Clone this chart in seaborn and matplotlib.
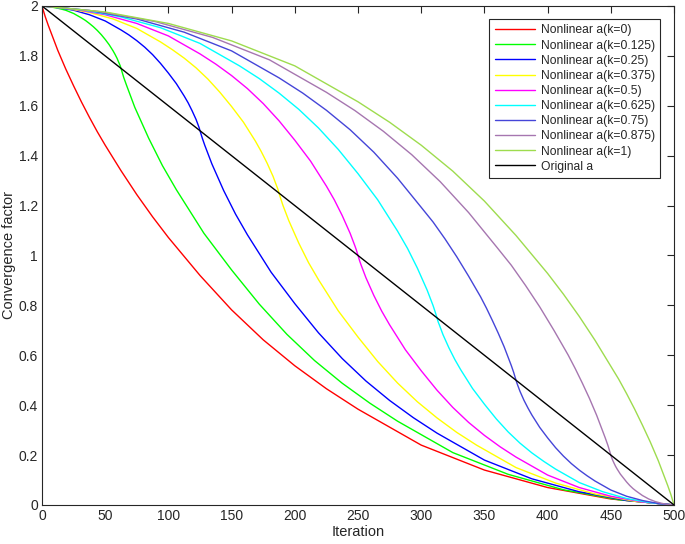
import numpy as np
import matplotlib
matplotlib.use("Agg")
import matplotlib.pyplot as plt
import seaborn as sb

# values (iteration, convergence factor)
x_k0 = [0, 2.5, 5, 12.5, 18.75, 25, 31.25, 37.5, 43.75, 50, 62.5, 75, 87.5, 100, 125, 150, 175, 200, 225, 250,
        300, 350, 400, 450, 500]
y_k0 = [2, 1.958, 1.922, 1.822, 1.748, 1.68, 1.615, 1.554, 1.496, 1.442, 1.34, 1.244, 1.155, 1.072, 0.92, 0.782,
        0.662, 0.558, 0.466, 0.384, 0.24, 0.14, 0.07, 0.024, 0]

x_k0125 = [0, 6.25, 12.5, 18.75, 25, 31.25, 34.4, 37.5, 40.6, 43.75, 46.9, 50, 53.1, 56.25, 57.8, 59.4, 60.9, 61.9, 62.2, 62.5,
           64.7, 66.9, 73.4, 84.4, 95.3, 106.25, 128.1, 150, 171.9, 193.75, 215.6, 237.5, 259.4, 281.25, 325, 368.75,
           412.5, 456.25, 500]
y_k0125 = [2, 1.997, 1.991, 1.983, 1.97, 1.952, 1.942, 1.930, 1.917, 1.902, 1.885, 1.866, 1.845, 1.820, 1.806, 1.79, 1.772,
           1.76, 1.755, 1.75,
           1.713, 1.682, 1.594, 1.47, 1.36, 1.264, 1.089, 0.942, 0.805, 0.684, 0.579, 0.488, 0.408, 0.336, 0.21, 0.123,
           0.061, 0.021, 0]

x_k025 = [0, 12.5, 25, 37.5, 50, 62.5, 68.75, 75, 81.25, 87.5, 93.75, 100, 106.25, 112.5, 115.6, 118.75, 121.9, 123.75, 124.4, 125,
          126.9, 128.75, 134.4, 143.75, 153.1, 162.5, 181.25, 200, 218.75, 237.5, 256.25, 275, 293.75, 312.5, 350, 387.5,
          425, 462.5, 500]
y_k025 = [2, 1.994, 1.983, 1.965, 1.94, 1.904, 1.884, 1.861, 1.835, 1.805, 1.77, 1.731, 1.689, 1.639, 1.612, 1.58, 1.545,
          1.52, 1.511, 1.5,
          1.469, 1.442, 1.367, 1.26, 1.166, 1.083, 0.933, 0.807, 0.69, 0.587, 0.497, 0.419, 0.35, 0.288, 0.18, 0.105,
          0.053, 0.018, 0]

x_k0375 = [0, 18.75, 37.5, 56.25, 75, 93.75, 103.1, 112.5, 121.9, 131.25, 140.6, 150, 159.4, 168.75, 173.4, 178.1, 182.8,
           185.6, 186.6, 187.5,
           189.1, 190.6, 195.3, 203.1, 210.9, 218.75, 234.4, 250, 265.6, 281.25, 296.9, 312.5, 328.1, 343.75, 375, 406.25,
           437.5, 468.75, 500]
y_k0375 = [2, 1.991, 1.974, 1.948, 1.91, 1.856, 1.825, 1.791, 1.752, 1.707, 1.655, 1.597, 1.534, 1.459, 1.417, 1.37, 1.317,
           1.279, 1.266, 1.25,
           1.224, 1.201, 1.139, 1.05, 0.971, 0.903, 0.778, 0.673, 0.575, 0.489, 0.414, 0.349, 0.291, 0.24, 0.15, 0.088,
           0.044, 0.015, 0]

x_k05 = [0, 25, 50, 75, 100, 125, 137.5, 150, 162.5, 175, 187.5, 200, 212.5, 225, 231.25, 237.5, 243.75, 247.5, 248.75, 250,
         251.25, 252.5, 256.25, 262.5, 268.75, 275, 287.5, 300, 312.5, 325, 337.5, 350, 362.5, 375, 400, 425, 450, 475, 500]
y_k05 = [2, 1.988, 1.965, 1.93, 1.88, 1.808, 1.767, 1.721, 1.669, 1.609, 1.54, 1.462, 1.378, 1.278, 1.223, 1.16, 1.089,
         1.039, 1.021, 1.0,
         0.979, 0.961, 0.911, 0.84, 0.777, 0.722, 0.622, 0.538, 0.46, 0.391, 0.331, 0.279, 0.233, 0.192, 0.12, 0.07,
         0.035, 0.012, 0]

x_k0625 = [0, 31.25, 62.5, 93.75, 125, 156.25, 171.9, 187.5, 203.1, 218.75, 234.4, 250, 265.6, 281.25, 289.1, 296.9, 304.7,
           309.4, 310.9, 312.5,
           313.4, 314.4, 317.2, 321.9, 326.6, 331.25, 340.6, 350, 359.4, 368.75, 378.1, 387.5, 396.9, 406.25, 425, 443.75,
           462.5, 481.25, 500]
y_k0625 = [2, 1.985, 1.956, 1.913, 1.85, 1.76, 1.709, 1.651, 1.586, 1.511, 1.425, 1.328, 1.223, 1.098, 1.029, 0.95, 0.861,
           0.799, 0.776, 0.75,
           0.734, 0.721, 0.683, 0.63, 0.583, 0.542, 0.467, 0.404, 0.345, 0.293, 0.248, 0.209, 0.175, 0.144, 0.09, 0.053,
           0.026, 0.009, 0]

x_k075 = [0, 37.5, 75, 112.5, 150, 187.5, 206.25, 225, 243.75, 262.5, 281.25, 300, 309.4, 318.75, 328.1, 337.5, 346.9,
          351.6, 356.25, 360.9, 365.6, 371.25, 373.1, 375,
          375.6, 376.25, 378.1, 381.25, 384.4, 387.5, 393.75, 400, 406.25, 412.5, 418.75, 425, 431.25, 437.5, 450, 462.5,
          475, 487.5, 500]
y_k075 = [2, 1.982, 1.948, 1.895, 1.82, 1.712, 1.651, 1.582, 1.504, 1.414, 1.31, 1.193, 1.134, 1.067, 0.995, 0.917, 0.835,
          0.789, 0.74, 0.689, 0.634, 0.559, 0.532, 0.5,
          0.49, 0.481, 0.456, 0.42, 0.389, 0.361, 0.311, 0.269, 0.23, 0.196, 0.166, 0.14, 0.117, 0.096, 0.06, 0.035,
          0.018, 0.006, 0]

# this curve meets the original line at iteration 450 in the picture
x_k0875 = [0, 45, 90, 135, 180, 225, 247.5, 270, 292.5, 315, 337.5, 360, 371.25, 382.5, 393.75, 405, 416.25, 421.9,
           427.5, 433.1, 438.75, 445.5, 447.75, 450,
           450.25, 450.5, 451.25, 452.5, 453.75, 455, 457.5, 460, 462.5, 465, 467.5, 470, 472.5, 475, 480, 485,
           490, 495, 500]
y_k0875 = [2, 1.978, 1.937, 1.874, 1.784, 1.654, 1.581, 1.498, 1.404, 1.296, 1.172, 1.032, 0.961, 0.88, 0.794, 0.7, 0.601,
           0.546, 0.488, 0.427, 0.36, 0.27, 0.238, 0.2,
           0.196, 0.192, 0.182, 0.168, 0.155, 0.144, 0.124, 0.108, 0.092, 0.078, 0.066, 0.056, 0.047, 0.038, 0.024, 0.014,
           0.007, 0.002, 0]

x_k1 = [0, 50, 100, 150, 200, 250, 275, 300, 325, 350, 375, 400, 412.5, 425, 437.5, 450, 456.25, 462.5, 468.75, 475,
        481.25, 487.5, 495, 497.5, 500]
y_k1 = [2, 1.976, 1.93, 1.86, 1.76, 1.616, 1.534, 1.442, 1.338, 1.218, 1.08, 0.928, 0.845, 0.756, 0.66, 0.556,
        0.504, 0.446, 0.385, 0.32, 0.252, 0.178, 0.078, 0.042, 0]

x_orig = [0, 500]
y_orig = [2, 0]

curves = [
    (x_k0, y_k0, "Nonlinear a(k=0)", "#FF0000"),
    (x_k0125, y_k0125, "Nonlinear a(k=0.125)", "#00FF00"),
    (x_k025, y_k025, "Nonlinear a(k=0.25)", "#0000FF"),
    (x_k0375, y_k0375, "Nonlinear a(k=0.375)", "#FFFF00"),
    (x_k05, y_k05, "Nonlinear a(k=0.5)", "#FF00FF"),
    (x_k0625, y_k0625, "Nonlinear a(k=0.625)", "#00FFFF"),
    (x_k075, y_k075, "Nonlinear a(k=0.75)", "#4545D8"),
    (x_k0875, y_k0875, "Nonlinear a(k=0.875)", "#A676B0"),
    (x_k1, y_k1, "Nonlinear a(k=1)", "#9EDC4E"),
    (x_orig, y_orig, "Original a", "#000000"),
]

sb.set_theme(style="white")
plt.rcParams["font.family"] = ["Liberation Sans", "DejaVu Sans"]

fig = plt.figure(figsize=(6.85, 5.44), dpi=100)
ax = fig.add_axes([0.0613, 0.0717, 0.9227, 0.9173])

for xs, ys, lab, col in curves:
    sb.lineplot(x=xs, y=ys, color=col, label=lab, linewidth=1.0, ax=ax)

ax.set_xlim(0, 500)
ax.set_ylim(0, 2)
ax.set_xticks(np.arange(0, 501, 50))
ax.set_yticks(np.arange(0, 2.01, 0.2))
ax.set_yticklabels(["0", "0.2", "0.4", "0.6", "0.8", "1", "1.2", "1.4", "1.6", "1.8", "2"])
ax.tick_params(axis="both", which="both", direction="in", length=5, width=0.8,
               colors="#262626", labelsize=10, top=True, right=True, pad=3)
for sp in ax.spines.values():
    sp.set_color("#262626")
    sp.set_linewidth(0.8)

ax.set_xlabel("Iteration", fontsize=10.5, color="#262626", labelpad=1)
ax.set_ylabel("Convergence factor", fontsize=10.5, color="#262626", labelpad=2)

leg = ax.legend(loc="upper right", bbox_to_anchor=(0.978, 0.974), borderaxespad=0, fancybox=False,
                framealpha=1, edgecolor="#262626", fontsize=8.7, handlelength=3.3, labelspacing=0.26,
                borderpad=0.45, handletextpad=0.5)
leg.get_frame().set_linewidth(0.8)

fig.savefig("out.png", dpi=100)
